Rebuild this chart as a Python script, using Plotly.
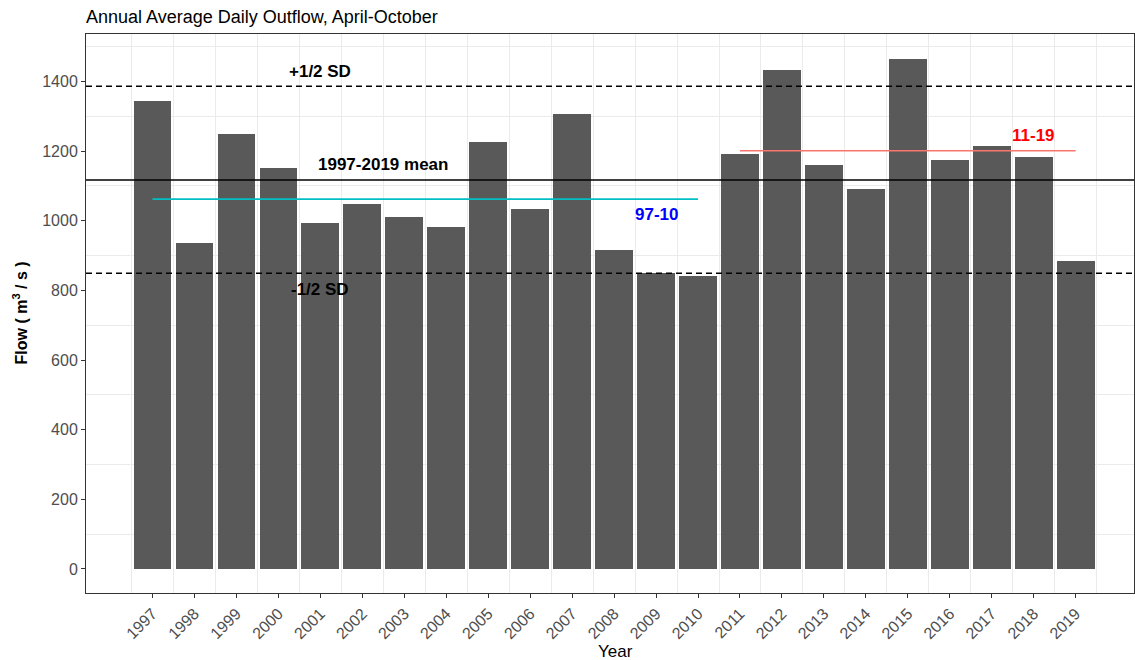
import plotly.graph_objects as go

years = list(range(1997, 2020))
flows = [1344, 936, 1248, 1150, 992, 1049, 1010, 982, 1225, 1034, 1305, 916, 851, 841,
         1192, 1434, 1160, 1092, 1464, 1175, 1215, 1183, 885]

overall_mean = 1117
plus_half_sd = 1386
minus_half_sd = 849

period_labels = ["97-10", "11-19"]
period_start = [1997, 2011]
period_end = [2010, 2019]
period_mean = [1062, 1201]
period_line_colors = ["#00BFC4", "#F8766D"]
period_text_colors = ["#0000FF", "#FF0000"]
period_text_x = [2009.0, 2018.0]
period_text_y = [1017, 1244]

ref_labels = ["+1/2 SD", "1997-2019 mean", "-1/2 SD"]
ref_text_x = [2001.0, 2002.5, 2001.0]
ref_text_y = [1429, 1161, 802]

FONT = "Arial, 'Liberation Sans', sans-serif"
W, H = 1135, 660
L, R, T, B = 86, 1, 34, 67

fig = go.Figure()
fig.add_trace(go.Bar(x=years, y=flows, width=0.9, marker=dict(color="#595959", line=dict(width=0)),
                     showlegend=False, hoverinfo="x+y"))

for s, e, m, c in zip(period_start, period_end, period_mean, period_line_colors):
    fig.add_trace(go.Scatter(x=[s, e], y=[m, m], mode="lines", line=dict(color=c, width=1.6),
                             showlegend=False))

for yv, dash in [(plus_half_sd, "6px,4px"), (minus_half_sd, "6px,4px"), (overall_mean, "solid")]:
    fig.add_shape(type="line", xref="paper", x0=0, x1=1, yref="y", y0=yv, y1=yv,
                  line=dict(color="black", width=1.6, dash=dash), layer="above")

for t, x, y in zip(ref_labels, ref_text_x, ref_text_y):
    fig.add_annotation(x=x, y=y, text="<b>%s</b>" % t, showarrow=False,
                       font=dict(family=FONT, size=17, color="black"))
for t, x, y, c in zip(period_labels, period_text_x, period_text_y, period_text_colors):
    fig.add_annotation(x=x, y=y, text="<b>%s</b>" % t, showarrow=False,
                       font=dict(family=FONT, size=17, color=c))

panel_w = W - L - R
panel_h = H - T - B
fig.add_annotation(xref="paper", yref="paper", x=(20 - L) / panel_w, y=0.5,
                   xanchor="center", yanchor="middle",
                   text="<b>Flow ( m<sup>3</sup> / s )</b>", textangle=-90, showarrow=False,
                   font=dict(family=FONT, size=16, color="black"))
fig.add_annotation(xref="paper", yref="paper", x=(615 - L) / panel_w,
                   y=-(651 - (T + panel_h)) / panel_h,
                   text="Year", showarrow=False, xanchor="center", yanchor="middle",
                   font=dict(family=FONT, size=17, color="black"))

fig.update_layout(
    width=W, height=H,
    margin=dict(l=L, r=R, t=T, b=B, autoexpand=False),
    plot_bgcolor="white", paper_bgcolor="white",
    font=dict(family=FONT),
    title=dict(text="Annual Average Daily Outflow, April-October", xref="container", yref="container",
               x=L / W, xanchor="left", y=1 - 17 / H, yanchor="middle",
               font=dict(family=FONT, size=18, color="black")),
    bargap=0,
)
fig.update_xaxes(
    range=[1995.415, 2020.39], tickmode="array", tickvals=years, ticktext=[str(y) for y in years],
    tickangle=-45, ticks="outside", ticklen=4, tickcolor="#333333", tickwidth=1,
    tickfont=dict(family=FONT, size=16, color="#4D4D4D"),
    showgrid=False, zeroline=False, showline=True, mirror=True, linecolor="#333333", linewidth=1,
    minor=dict(tickmode="array", tickvals=[y + 0.5 for y in range(1996, 2020)], showgrid=True,
               gridcolor="#EBEBEB", gridwidth=1, ticks=""),
    automargin=False,
)
fig.update_yaxes(
    range=[-69, 1536], tickmode="array", tickvals=list(range(0, 1600, 200)),
    ticks="outside", ticklen=4, tickcolor="#333333", tickwidth=1,
    tickfont=dict(family=FONT, size=16, color="#4D4D4D"),
    showgrid=False, zeroline=False, showline=True, mirror=True, linecolor="#333333", linewidth=1,
    minor=dict(tickmode="array", tickvals=list(range(100, 1600, 200)), showgrid=True,
               gridcolor="#EBEBEB", gridwidth=1, ticks=""),
    automargin=False,
)

fig.write_html(
    "out.html",
    config={"displayModeBar": False},
    post_script="document.body.style.margin='0';document.body.style.overflow='hidden';"
                "document.documentElement.style.overflow='hidden';",
)
